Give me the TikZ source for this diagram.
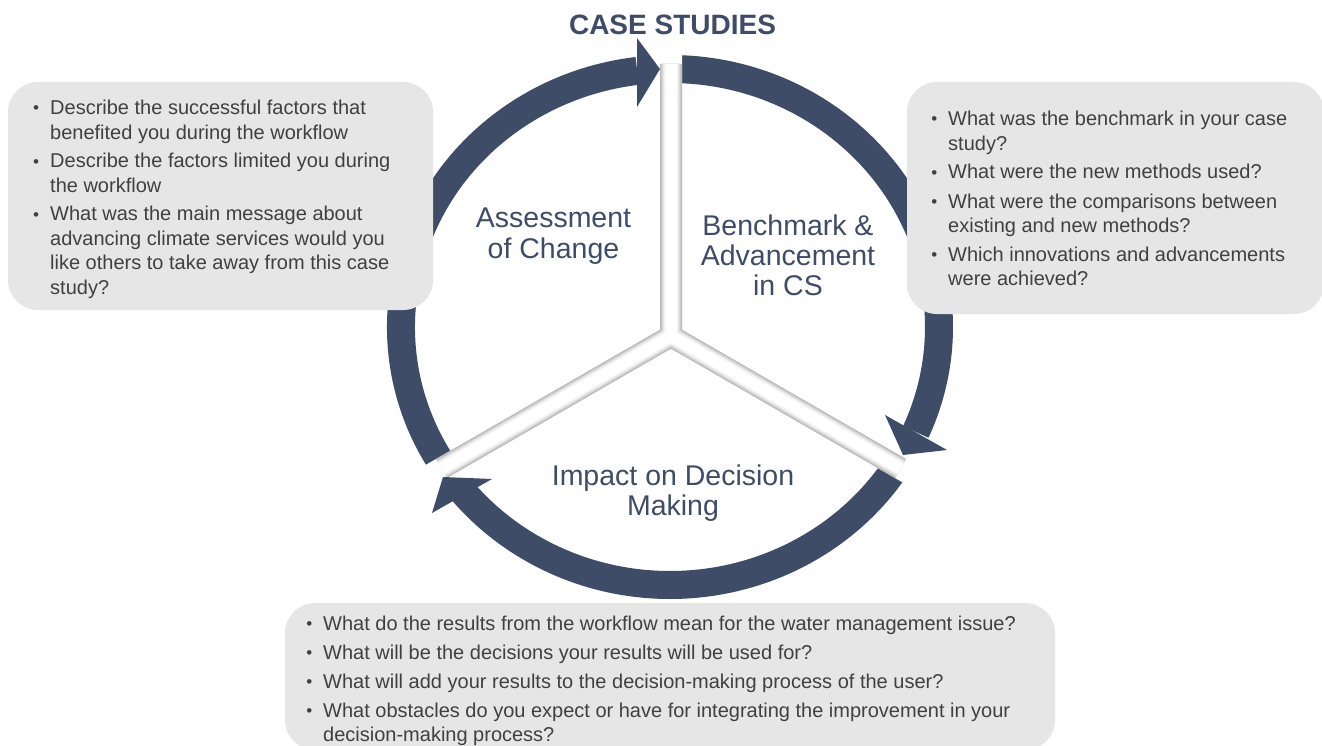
\documentclass[tikz,border=0pt]{standalone}
\usepackage{fontspec}
\setmainfont{Liberation Sans}
\usepackage{graphicx}
\definecolor{ringblue}{RGB}{62,76,104}
\definecolor{boxgray}{RGB}{230,230,230}
\definecolor{txtgray}{RGB}{64,64,64}
\newcommand{\qbul}{\raisebox{1pt}{\fontsize{17}{17}\selectfont\textbullet}}
\newcommand{\qitem}[2]{\parbox[t]{#1}{\fontsize{20}{24.5}\selectfont\raggedright\leavevmode\llap{\qbul\hspace{11pt}}#2}}
\begin{document}
\begin{tikzpicture}[x=1pt,y=-1pt,
  ring/.style={draw=ringblue, line width=28pt},
  head/.style={fill=ringblue},
  qbox/.style={fill=boxgray, rounded corners=30pt},
  qtext/.style={anchor=base west, inner sep=0pt, text=txtgray},
  lbl/.style={anchor=base, inner sep=0pt, text=ringblue, font=\fontsize{28.5}{30}\selectfont},
]
\useasboundingbox (0,0) rectangle (1322,746);
\clip (0,0) rectangle (1322,746);
\fill[white] (0,0) rectangle (1322,746);

\coordinate (C) at (670,327);
\coordinate (J) at (671,336);

% ring segments
\draw[ring] (C) ++(146:269 and 258) arc[start angle=146, end angle=263, x radius=269, y radius=258];
\draw[ring] (C) ++(268.5:269 and 258) arc[start angle=268.5, end angle=384, x radius=269, y radius=258];
\draw[ring] (C) ++(31:269 and 258) arc[start angle=31, end angle=140.5, x radius=269, y radius=258];

% gap cut
\draw[white, line width=22pt] (671,45) -- (J) -- (411.2,486) (J) -- (930.8,486);
% shaded divider
\foreach \w/\c in {22/gray!55, 20/gray!42, 18/gray!30, 16/gray!18, 14/gray!8, 11/white} {
  \draw[line width=\w pt, \c, line join=round] (671,64) -- (J) -- (441.5,468.5) (J) -- (900.5,468.5);
}

% arrowheads
\fill[head] (637,38) -- (660,69) -- (637,107) -- cycle;
\fill[head] (885,415) -- (903,455) -- (947,450) -- cycle;
\fill[head] (492,479) -- (443,477) -- (432,513) -- cycle;

% boxes
\fill[qbox] (8,82) rectangle (433,310);
\fill[qbox] (907,82) rectangle (1324,314);
\fill[qbox] (285,603) rectangle (1055,750);

% left box text
\node[qtext] (l1) at (50,115) {\qitem{375pt}{Describe the successful factors that\\benefited you during the workflow}};
\node[qtext] (l2) at (50,168) {\qitem{375pt}{Describe the factors limited you during\\the workflow}};
\node[qtext] (l3) at (50,221) {\qitem{375pt}{What was the main message about\\advancing climate services would you\\like others to take away from this case\\study?}};

% right box text
\node[qtext] (r1) at (948,126) {\qitem{370pt}{What was the benchmark in your case\\study?}};
\node[qtext] (r2) at (948,179) {\qitem{370pt}{What were the new methods used?}};
\node[qtext] (r3) at (948,208) {\qitem{370pt}{What were the comparisons between\\existing and new methods?}};
\node[qtext] (r4) at (948,261) {\qitem{370pt}{Which innovations and advancements\\were achieved?}};

% bottom box text
\node[qtext] (b1) at (323,630) {\qitem{725pt}{What do the results from the workflow mean for the water management issue?}};
\node[qtext] (b2) at (323,659) {\qitem{725pt}{What will be the decisions your results will be used for?}};
\node[qtext] (b3) at (323,688) {\qitem{725pt}{What will add your results to the decision-making process of the user?}};
\node[qtext] (b4) at (323,717) {\qitem{725pt}{What obstacles do you expect or have for integrating the improvement in your\\decision-making process?}};

% labels
\node[lbl] (assess) at (553.5,228) {\begin{tabular}[t]{@{}c@{}}Assessment\\of Change\end{tabular}};
\node[lbl] (bench) at (788,235) {\begin{tabular}[t]{@{}c@{}}Benchmark \&\\Advancement\\in CS\end{tabular}};
\node[lbl] (impact) at (673,485) {\begin{tabular}[t]{@{}c@{}}Impact on Decision\\Making\end{tabular}};

% title
\node[anchor=base, inner sep=0pt, text=ringblue, font=\fontsize{28}{28}\selectfont\bfseries] (title) at (672.5,35) {CASE STUDIES};
\end{tikzpicture}
\end{document}
